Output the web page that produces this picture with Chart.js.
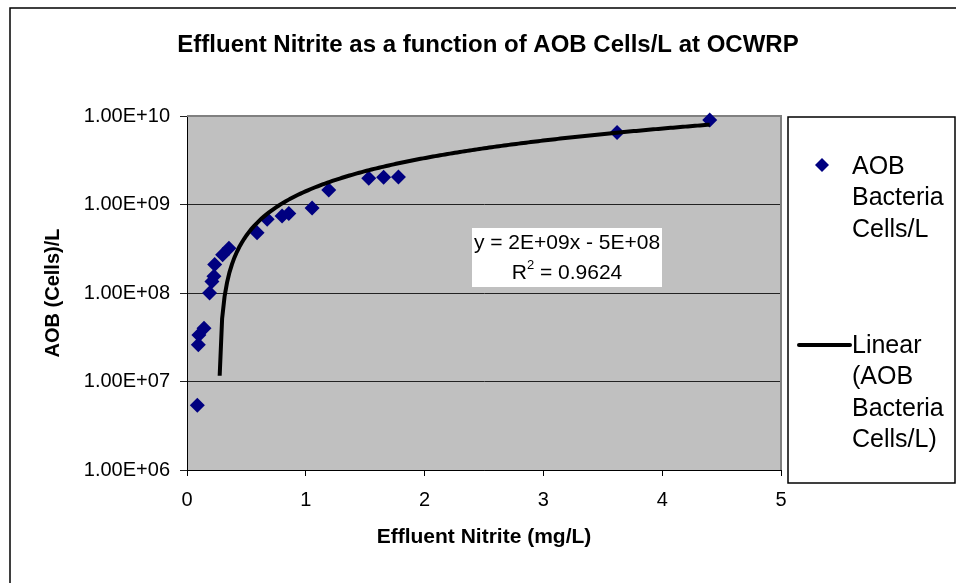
<!DOCTYPE html>
<html>
<head>
<meta charset="utf-8">
<script src="https://cdn.jsdelivr.net/npm/chart.js@4.4.1/dist/chart.umd.min.js"></script>
<style>
  html, body { margin: 0; padding: 0; background: #fff; }
  #wrap { width: 956px; height: 583px; }
</style>
</head>
<body>
<div id="wrap"><canvas id="chart"></canvas></div>
<script>
// values
const nitrite = [0.087, 0.095, 0.10, 0.143, 0.19, 0.21, 0.227, 0.233, 0.30, 0.353, 0.59,
  0.675, 0.80, 0.857, 1.053, 1.193, 1.53, 1.655, 1.78, 3.62, 4.40];
const aobCells = [5.4e6, 2.6e7, 3.35e7, 4.0e7, 1.0e8, 1.35e8, 1.55e8, 2.1e8, 2.7e8, 3.2e8, 4.8e8,
  6.8e8, 7.4e8, 7.9e8, 9.1e8, 1.46e9, 1.98e9, 2.03e9, 2.05e9, 6.5e9, 9.0e9];
const yTicks = [1e6, 1e7, 1e8, 1e9, 1e10];
const xTicks = [0, 1, 2, 3, 4, 5];
const trendStartX = 0.275; // where the fitted line becomes visible on the log axis

const chartTitle = 'Effluent Nitrite as a function of AOB Cells/L at OCWRP';
const xTitle = 'Effluent Nitrite (mg/L)';
const yTitle = 'AOB (Cells)/L';
const seriesLabel = 'AOB Bacteria Cells/L';
const trendLabel = 'Linear (AOB Bacteria Cells/L)';
const legendSeriesLines = ['AOB', 'Bacteria', 'Cells/L'];
const legendTrendLines = ['Linear', '(AOB', 'Bacteria', 'Cells/L)'];
const equationText = 'y = 2E+09x - 5E+08';
const r2Value = '0.9624';

const FONT = '"Liberation Sans", Arial, sans-serif';

// least squares fit of the points, like the Excel trendline
const n = nitrite.length;
const mx = nitrite.reduce((a, b) => a + b, 0) / n;
const my = aobCells.reduce((a, b) => a + b, 0) / n;
let sxy = 0, sxx = 0;
nitrite.forEach((x, i) => {
  sxy += (x - mx) * (aobCells[i] - my);
  sxx += (x - mx) * (x - mx);
});
const slope = sxy / sxx;
const intercept = my - slope * mx;
const xEnd = Math.max(...nitrite);
const trendPoints = [];
for (let i = 0; i <= 200; i++) {
  const x = trendStartX + (xEnd - trendStartX) * i / 200;
  const y = slope * x + intercept;
  if (y > 0) trendPoints.push({ x, y });
}

const points = nitrite.map((x, i) => ({ x, y: aobCells[i] }));

function sci(v) {
  const [m, e] = v.toExponential(2).split('e');
  const sign = e[0];
  const digits = e.slice(1).padStart(2, '0');
  return m + 'E' + sign + digits;
}

const excelLook = {
  id: 'excelLook',
  beforeDraw(chart) {
    const { ctx, chartArea: a } = chart;
    ctx.save();
    ctx.fillStyle = '#fff';
    ctx.fillRect(0, 0, chart.width, chart.height);
    ctx.fillStyle = '#c0c0c0';
    ctx.fillRect(a.left, a.top, a.right - a.left, a.bottom - a.top);
    // chart frame, cut off at right and bottom
    ctx.strokeStyle = '#000';
    ctx.lineWidth = 1.5;
    ctx.strokeRect(10, 8, chart.width + 40, chart.height + 40);
    ctx.fillStyle = '#000';
    ctx.font = 'bold 24px ' + FONT;
    ctx.textAlign = 'center';
    ctx.textBaseline = 'middle';
    ctx.fillText(chartTitle, 488, 45);
    ctx.restore();
  },
  beforeDatasetsDraw(chart) {
    const { ctx, chartArea: a } = chart;
    ctx.save();
    ctx.strokeStyle = '#808080';
    ctx.lineWidth = 2;
    ctx.beginPath();
    ctx.moveTo(a.left, a.top);
    ctx.lineTo(a.right, a.top);
    ctx.lineTo(a.right, a.bottom);
    ctx.stroke();
    ctx.restore();
  },
  afterDraw(chart) {
    const { ctx } = chart;
    ctx.save();
    // equation label
    ctx.fillStyle = '#fff';
    ctx.fillRect(472, 228, 190, 59);
    ctx.fillStyle = '#000';
    ctx.font = '21px ' + FONT;
    ctx.textAlign = 'center';
    ctx.textBaseline = 'middle';
    ctx.fillText(equationText, 567, 243);
    const rest = ' = ' + r2Value;
    const wR = ctx.measureText('R').width;
    const wRest = ctx.measureText(rest).width;
    ctx.font = '13px ' + FONT;
    const w2 = ctx.measureText('2').width;
    const total = wR + w2 + wRest;
    const x0 = 567 - total / 2;
    ctx.textAlign = 'left';
    ctx.font = '21px ' + FONT;
    ctx.fillText('R', x0, 273);
    ctx.font = '13px ' + FONT;
    ctx.fillText('2', x0 + wR, 265);
    ctx.font = '21px ' + FONT;
    ctx.fillText(rest, x0 + wR + w2, 273);

    // legend box
    ctx.fillStyle = '#fff';
    ctx.fillRect(788, 117, 167, 366);
    ctx.strokeStyle = '#000';
    ctx.lineWidth = 1.5;
    ctx.strokeRect(788, 117, 167, 366);
    const ds = chart.data.datasets;
    // diamond marker
    ctx.fillStyle = ds[1].backgroundColor;
    ctx.beginPath();
    ctx.moveTo(822, 158);
    ctx.lineTo(829, 165);
    ctx.lineTo(822, 172);
    ctx.lineTo(815, 165);
    ctx.closePath();
    ctx.fill();
    // line sample
    ctx.strokeStyle = ds[0].borderColor;
    ctx.lineWidth = ds[0].borderWidth;
    ctx.lineCap = 'round';
    ctx.beginPath();
    ctx.moveTo(799, 345);
    ctx.lineTo(850, 345);
    ctx.stroke();
    ctx.fillStyle = '#000';
    ctx.font = '25px ' + FONT;
    ctx.textAlign = 'left';
    ctx.textBaseline = 'middle';
    legendSeriesLines.forEach((t, i) => ctx.fillText(t, 852, 167 + i * 31.5));
    legendTrendLines.forEach((t, i) => ctx.fillText(t, 852, 346 + i * 31.5));
    ctx.restore();
  }
};

new Chart(document.getElementById('chart'), {
  type: 'scatter',
  data: {
    datasets: [
      {
        label: trendLabel,
        data: trendPoints,
        showLine: true,
        borderColor: '#000',
        borderWidth: 4,
        pointRadius: 0,
        tension: 0,
        order: 0
      },
      {
        label: seriesLabel,
        data: points,
        pointStyle: 'rectRot',
        pointRadius: 7.5,
        backgroundColor: '#000080',
        borderColor: '#000080',
        borderWidth: 0,
        order: 1,
        clip: false
      }
    ]
  },
  options: {
    responsive: true,
    maintainAspectRatio: false,
    animation: false,
    devicePixelRatio: 1,
    layout: { padding: { left: 0, top: 116, right: 175, bottom: 0 } },
    plugins: {
      legend: { display: false },
      title: { display: false },
      tooltip: { enabled: false }
    },
    scales: {
      x: {
        type: 'linear',
        min: 0,
        max: 5,
        afterBuildTicks: s => { s.ticks = xTicks.map(v => ({ value: v })); },
        afterFit: s => { s.height = 113; },
        ticks: {
          color: '#000',
          font: { family: FONT, size: 20 },
          padding: 12
        },
        grid: { drawOnChartArea: false, color: '#000', tickLength: 6 },
        border: { color: '#000', width: 1 },
        title: {
          display: true,
          text: xTitle,
          color: '#000',
          font: { family: FONT, size: 21, weight: 'bold' },
          padding: { top: 0, bottom: 33 }
        }
      },
      y: {
        type: 'logarithmic',
        min: 1e6,
        max: 1e10,
        afterBuildTicks: s => { s.ticks = yTicks.map(v => ({ value: v })); },
        afterFit: s => { s.width = 187; },
        ticks: {
          color: '#000',
          font: { family: FONT, size: 20 },
          padding: 10,
          callback: v => sci(v)
        },
        grid: { color: '#222', lineWidth: 1, tickLength: 7 },
        border: { color: '#000', width: 1 },
        title: {
          display: true,
          text: yTitle,
          color: '#000',
          font: { family: FONT, size: 20, weight: 'bold' },
          padding: { top: 41, bottom: 0 }
        }
      }
    }
  },
  plugins: [excelLook]
});
</script>
</body>
</html>
